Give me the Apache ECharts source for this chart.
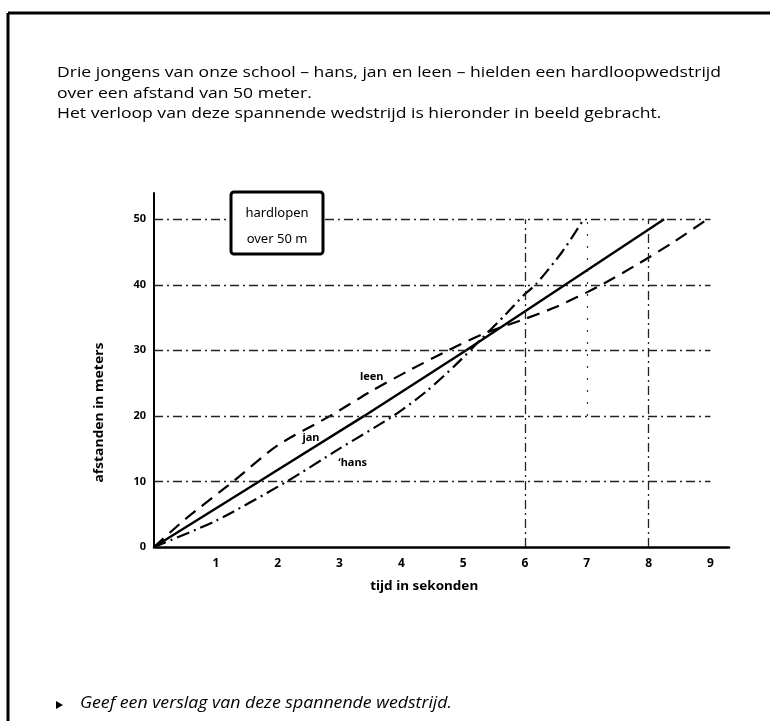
<!DOCTYPE html>
<html>
<head>
<meta charset="utf-8">
<title>hardlopen over 50 m</title>
<script src="https://cdn.jsdelivr.net/npm/echarts@6/dist/echarts.min.js"></script>
<style>
  html, body { margin: 0; padding: 0; background: #fff; }
  #chart { width: 770px; height: 721px; }
</style>
</head>
<body>
<div id="chart"></div>
<script>
// Tick values of both axes
const timeTicks = [1, 2, 3, 4, 5, 6, 7, 8, 9];
const distanceTicks = [0, 10, 20, 30, 40, 50];

// jan: steady pace all the way
const janTime = [0, 1.7, 3.4, 5.05, 6.65, 8.25];
const janDist = [0, 10, 20, 30, 40, 50];

// leen: fast start, slows down after the halfway point
const leenTime = [0, 0.5, 1.28, 2.0, 2.85, 3.5, 4.1, 4.76, 5.35, 6.0, 6.5, 7.2, 7.85, 8.4, 8.95];
const leenDist = [0, 4.2, 10, 15.5, 20, 23.7, 26.8, 30, 32.6, 34.8, 36.6, 39.8, 43.3, 46.5, 50];

// hans: slow start, strong finish
const hansTime = [0, 1.0, 2.15, 3.0, 3.87, 4.4, 4.87, 5.3, 5.68, 6.0, 6.17, 6.6, 6.95];
const hansDist = [0, 4, 10, 15, 20, 23.7, 27.7, 31.8, 35.4, 38.6, 40, 45, 50];

// Where the runners' names are written (time, distance)
const nameAnchors = [
  { name: 'leen', at: [3.33, 26.0] },
  { name: 'jan', at: [2.40, 16.6] },
  { name: '\u02bbhans', at: [2.98, 12.8] }
];

const introLines = [
  'Drie jongens van onze school \u2013 hans, jan en leen \u2013 hielden een hardloopwedstrijd',
  'over een afstand van 50 meter.',
  'Het verloop van deze spannende wedstrijd is hieronder in beeld gebracht.'
];
const question = 'Geef een verslag van deze spannende wedstrijd.';
const boxLines = ['hardlopen', 'over 50 m'];
const xTitle = 'tijd in sekonden';
const yTitle = 'afstanden in meters';

const pairs = (xs, ys) => xs.map((x, i) => [x, ys[i]]);
const X_END = 9;   // grid lines stop at the 9 s mark

// horizontal stretch factor that makes a text run exactly `width` pixels long
const measureCtx = document.createElement('canvas').getContext('2d');
function stretchTo(text, font, width) {
  measureCtx.font = font;
  return width / measureCtx.measureText(text).width;
}

const chart = echarts.init(document.getElementById('chart'), null, { renderer: 'canvas' });

const gridLineStyle = { color: '#222', width: 1.3, type: [9, 4, 2, 4] };
const horizontalGrid = distanceTicks.filter(d => d > 0).map(d => [
  { coord: [0, d] }, { coord: [X_END, d] }
]);
const verticalGrid = [6, 8].map(t => [{ coord: [t, 0] }, { coord: [t, 50] }]);
const sparseGrid = [7].map(t => [
  { coord: [t, 20], lineStyle: { color: '#333', width: 1.2, type: [2, 10] } },
  { coord: [t, 50] }
]);

const tickFont = { color: '#000', fontFamily: 'Noto Sans', fontSize: 12, fontWeight: 'bold' };

const option = {
  backgroundColor: '#ffffff',
  animation: false,
  grid: { left: 154, right: 41, top: 193, bottom: 174, containLabel: false },
  xAxis: {
    type: 'value', min: 0, max: 9.3, interval: 1,
    axisLine: { show: true, lineStyle: { color: '#000', width: 2.5 } },
    axisTick: { show: false },
    splitLine: { show: false },
    axisLabel: Object.assign({}, tickFont, {
      margin: 11,
      formatter: v => (timeTicks.indexOf(v) >= 0 ? String(v) : '')
    })
  },
  yAxis: {
    type: 'value', min: 0, max: 54, interval: 10,
    axisLine: { show: true, lineStyle: { color: '#000', width: 2 } },
    axisTick: { show: false },
    splitLine: { show: false },
    axisLabel: Object.assign({}, tickFont, {
      fontSize: 11, margin: 8,
      formatter: v => (distanceTicks.indexOf(v) >= 0 ? String(v) : '')
    })
  },
  series: [
    {
      name: 'grid', type: 'line', data: [], silent: true,
      markLine: {
        silent: true, symbol: 'none', label: { show: false },
        lineStyle: gridLineStyle,
        data: horizontalGrid.concat(verticalGrid).concat(sparseGrid)
      }
    },
    {
      name: 'jan', type: 'line', data: pairs(janTime, janDist),
      showSymbol: false, smooth: false,
      lineStyle: { color: '#000', width: 2.4, type: 'solid' }
    },
    {
      name: 'leen', type: 'line', data: pairs(leenTime, leenDist),
      showSymbol: false, smooth: 0.25,
      lineStyle: { color: '#000', width: 2.2, type: [13, 8] }
    },
    {
      name: 'hans', type: 'line', data: pairs(hansTime, hansDist),
      showSymbol: false, smooth: 0.25,
      lineStyle: { color: '#000', width: 2.2, type: [13, 5, 2, 5] }
    }
  ]
};
chart.setOption(option);

// Page frame, captions and the names beside the curves
const graphics = [
  { type: 'line', shape: { x1: 8, y1: 13, x2: 770, y2: 13 }, style: { stroke: '#000', lineWidth: 3 } },
  { type: 'line', shape: { x1: 8, y1: 13, x2: 8, y2: 721 }, style: { stroke: '#000', lineWidth: 3 } }
];

const introFont = '15px "Open Sans", sans-serif';
const introStretch = stretchTo(introLines[0], introFont, 664);
introLines.forEach((line, i) => {
  graphics.push({
    type: 'text', x: 57, y: 73 + i * 20.5, scaleX: introStretch,
    style: { text: line, font: introFont, fill: '#000', align: 'left', verticalAlign: 'middle' }
  });
});

graphics.push({
  type: 'polygon', shape: { points: [[56, 701], [56, 709], [63, 705]] }, style: { fill: '#000' }
});
const questionFont = 'italic 16px "Open Sans", sans-serif';
graphics.push({
  type: 'text', x: 80, y: 703, scaleX: stretchTo(question, questionFont, 372),
  style: { text: question, font: questionFont, fill: '#000', align: 'left', verticalAlign: 'middle' }
});

// box with the heading of the diagram
graphics.push({
  type: 'rect', shape: { x: 231, y: 192, width: 92, height: 62, r: 3 },
  style: { fill: '#fff', stroke: '#000', lineWidth: 3 }, z: 10
});
boxLines.forEach((line, i) => {
  graphics.push({
    type: 'text', x: 277, y: 213 + i * 26, z: 11,
    style: { text: line, font: '13px "Noto Sans", sans-serif', fill: '#000', align: 'center', verticalAlign: 'middle' }
  });
});

// axis titles
const titleFont = 'bold 12px "Noto Sans", sans-serif';
const origin = chart.convertToPixel({ gridIndex: 0 }, [0, 0]);
const xMid = chart.convertToPixel({ gridIndex: 0 }, [4.37, 0]);
graphics.push({
  type: 'text', x: xMid[0], y: origin[1] + 40, scaleX: stretchTo(xTitle, titleFont, 108),
  style: { text: xTitle, font: titleFont, fill: '#000', align: 'center', verticalAlign: 'middle' }
});
const yMid = chart.convertToPixel({ gridIndex: 0 }, [0, 20.5]);
graphics.push({
  type: 'text', x: 100, y: yMid[1], rotation: Math.PI / 2, scaleX: stretchTo(yTitle, titleFont, 140),
  style: { text: yTitle, font: titleFont, fill: '#000', align: 'center', verticalAlign: 'middle' }
});

nameAnchors.forEach(a => {
  const p = chart.convertToPixel({ gridIndex: 0 }, a.at);
  graphics.push({
    type: 'text', x: p[0], y: p[1], z: 12,
    style: { text: a.name, font: 'bold 11px "Noto Sans", sans-serif', fill: '#000', align: 'left', verticalAlign: 'middle' }
  });
});

chart.setOption({ graphic: graphics });
</script>
</body>
</html>
